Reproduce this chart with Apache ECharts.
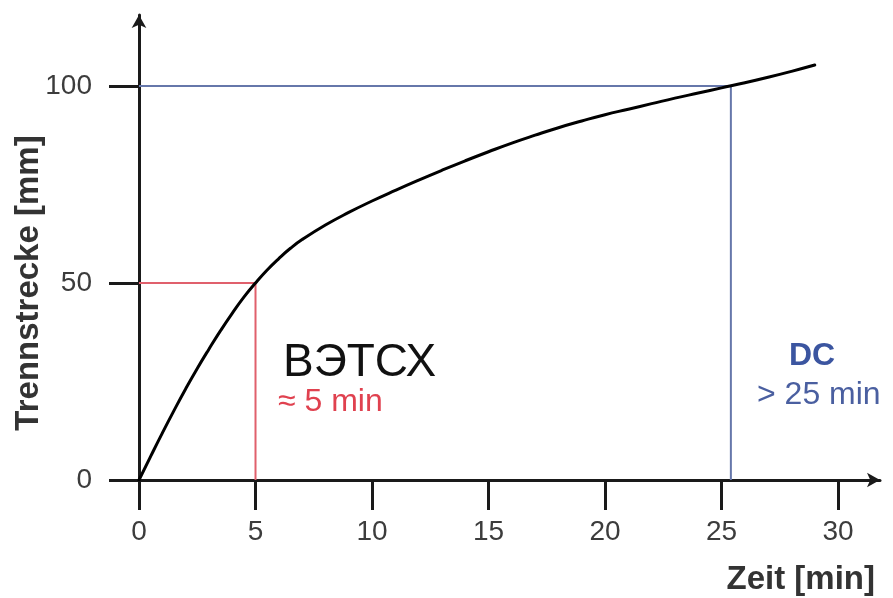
<!DOCTYPE html>
<html>
<head>
<meta charset="utf-8">
<script src="https://cdn.jsdelivr.net/npm/echarts@6/dist/echarts.min.js"></script>
<style>
html,body{margin:0;padding:0;background:#fff;}
#chart{width:893px;height:598px;}
</style>
</head>
<body>
<div id="chart"></div>
<script>
// Data
const curveX = [0, 0.5, 1, 1.5, 2, 2.5, 3, 3.5, 4, 4.5, 5, 5.5, 6, 6.5, 7, 8, 9, 10, 11, 12, 13, 14, 15, 16, 17, 18, 19, 20, 21, 22, 23, 24, 25, 26, 27, 28, 29];
const curveY = [0, 6, 11.9, 17.6, 23.1, 28.3, 33.2, 37.9, 42.3, 46.4, 50, 53.3, 56.2, 58.8, 61.0, 64.7, 67.9, 70.8, 73.5, 76.1, 78.6, 81.0, 83.3, 85.5, 87.5, 89.4, 91.1, 92.7, 94.1, 95.5, 96.9, 98.2, 99.5, 100.8, 102.2, 103.7, 105.3];
const redX = [0, 5, 5];
const redY = [50, 50, 0];
const blueX = [0, 25.4, 25.4];
const blueY = [100, 100, 0];
const xTicks = [0, 5, 10, 15, 20, 25, 30];
const yTicks = [0, 50, 100];
const xName = 'Zeit [min]';
const yName = 'Trennstrecke [mm]';
const noteA = 'ВЭТСХ';
const noteA2 = '≈ 5 min';
const noteB = 'DC';
const noteB2 = '> 25 min';

const zip = (a, b) => a.map((v, i) => [v, b[i]]);
const FONT = '"Liberation Sans", Arial, sans-serif';
const axisCol = '#1a1a1a';

const chart = echarts.init(document.getElementById('chart'), null, {renderer: 'canvas'});
chart.setOption({
  animation: false,
  backgroundColor: '#ffffff',
  grid: {left: 139, right: 13, top: 15, bottom: 118, containLabel: false},
  xAxis: {
    type: 'value', min: 0, max: 31.8,
    splitLine: {show: false},
    axisLine: {show: true, lineStyle: {color: axisCol, width: 3}, symbol: ['none', 'arrow'], symbolSize: [11, 13]},
    axisTick: {show: true, length: 30, inside: false, lineStyle: {color: axisCol, width: 3}, customValues: xTicks},
    axisLabel: {show: true, margin: 38, fontSize: 28, color: '#3c3c3c', fontFamily: FONT, customValues: xTicks}
  },
  yAxis: {
    type: 'value', min: 0, max: 118,
    splitLine: {show: false},
    axisLine: {show: true, lineStyle: {color: axisCol, width: 3}, symbol: ['none', 'arrow'], symbolSize: [11, 13]},
    axisTick: {show: true, length: 30, inside: false, lineStyle: {color: axisCol, width: 3}, customValues: yTicks},
    axisLabel: {show: true, margin: 47, fontSize: 28, color: '#3c3c3c', fontFamily: FONT, customValues: yTicks}
  },
  series: [
    {type: 'line', data: zip(redX, redY), showSymbol: false, lineStyle: {color: '#e0606c', width: 2}, z: 1},
    {type: 'line', data: zip(blueX, blueY), showSymbol: false, lineStyle: {color: '#6677aa', width: 2}, z: 1},
    {type: 'line', data: zip(curveX, curveY), smooth: 0.5, showSymbol: false, lineStyle: {color: '#000', width: 3, join: 'round', cap: 'round'}, z: 3}
  ],
  graphic: [
    {type: 'text', x: 29, y: 283, rotation: Math.PI / 2,
      style: {text: yName, font: 'bold 33px ' + FONT, fill: '#333', textAlign: 'center', textVerticalAlign: 'middle'}},
    {type: 'text', x: 875, y: 580,
      style: {text: xName, font: 'bold 33px ' + FONT, fill: '#333', textAlign: 'right', textVerticalAlign: 'middle'}},
    {type: 'text', x: 283, y: 363,
      style: {text: noteA, font: '46px ' + FONT, fill: '#111', textAlign: 'left', textVerticalAlign: 'middle'}},
    {type: 'text', x: 278, y: 402,
      style: {text: noteA2, font: '32px ' + FONT, fill: '#e0414f', textAlign: 'left', textVerticalAlign: 'middle'}},
    {type: 'text', x: 812, y: 356,
      style: {text: noteB, font: 'bold 32px ' + FONT, fill: '#3b55a0', textAlign: 'center', textVerticalAlign: 'middle'}},
    {type: 'text', x: 757, y: 395,
      style: {text: noteB2, font: '32px ' + FONT, fill: '#4a5fa0', textAlign: 'left', textVerticalAlign: 'middle'}}
  ]
});
</script>
</body>
</html>
